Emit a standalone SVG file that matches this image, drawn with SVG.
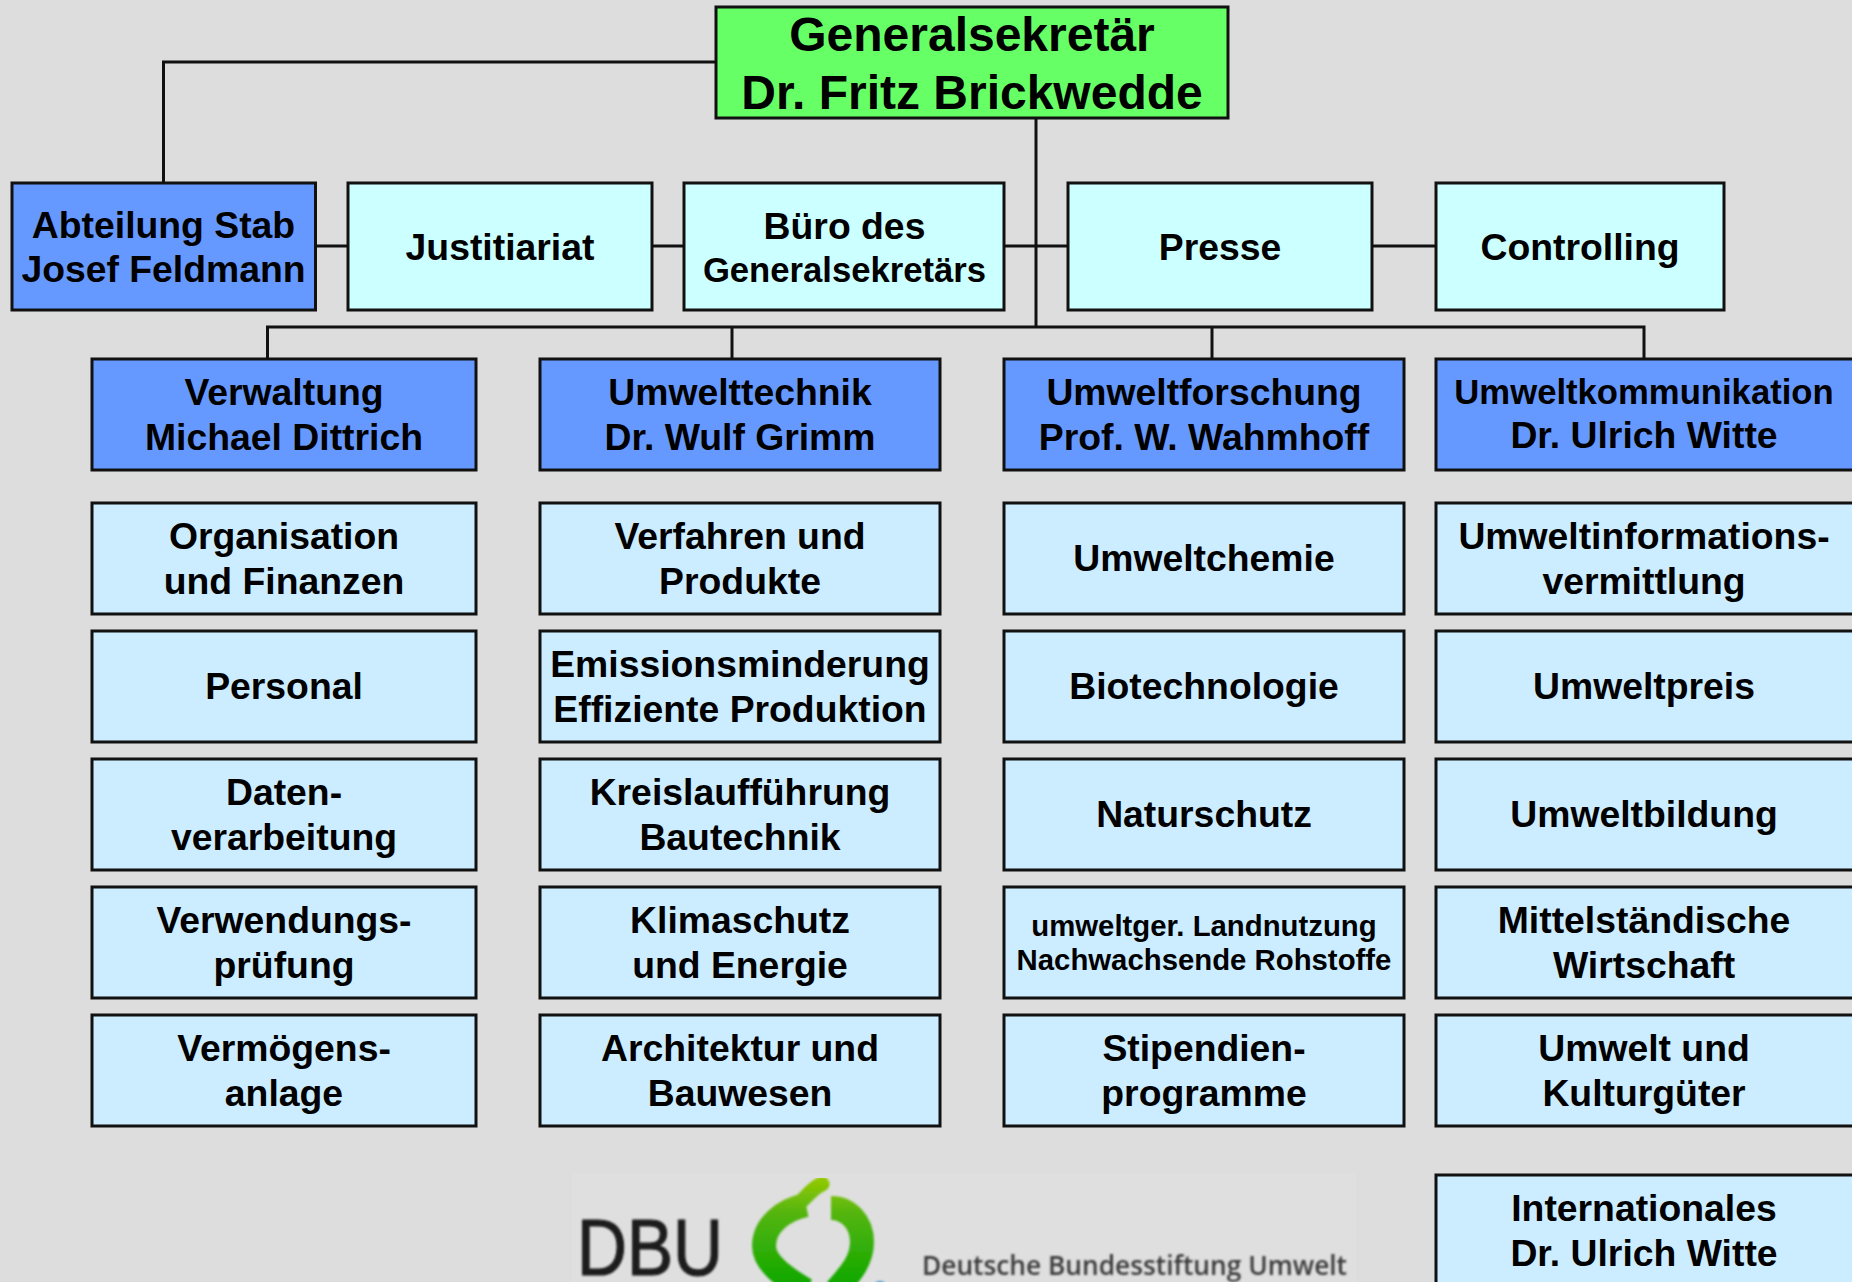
<svg xmlns="http://www.w3.org/2000/svg" width="1852" height="1282" viewBox="0 0 1852 1282">
<style>
.b{stroke:#111;stroke-width:3}
.g{fill:#66FF66}.h{fill:#6699FF}.c{fill:#CCFFFF}.l{fill:#CCECFF}
text{font-family:"Liberation Sans",Arial,sans-serif;font-weight:700;fill:#000;text-anchor:middle}
.t{font-size:37.33px}.s{font-size:34.67px}.x{font-size:29.33px}.m{font-size:48px}
.con{fill:none;stroke:#111;stroke-width:3}
</style>
<defs>
<linearGradient id="lg" x1="0" y1="1175" x2="0" y2="1282" gradientUnits="userSpaceOnUse"><stop offset="0" stop-color="#99CC00"/><stop offset="0.35" stop-color="#55B510"/><stop offset="1" stop-color="#11A800"/></linearGradient>
<filter id="soft" x="-5%" y="-5%" width="110%" height="110%"><feGaussianBlur stdDeviation="0.8"/></filter>
</defs>
<rect width="1852" height="1282" fill="#DDDDDD"/>
<g id="connectors" class="con">
<path d="M716 62H163.500V182"/>
<path d="M1036 118V327"/>
<path d="M316 246H1436"/>
<path d="M267.500 358V327H1644V358"/>
<path d="M732 327V358"/>
<path d="M1212 327V358"/>
</g>
<g id="n-general"><rect class="b g" x="716" y="7" width="512" height="111"/><text class="m" x="972" y="51">Generalsekretär</text><text class="m" x="972" y="109">Dr. Fritz Brickwedde</text></g>
<g id="n-stab"><rect class="b h" x="12" y="183" width="303.500" height="127"/><text class="t" x="163.500" y="237.500">Abteilung Stab</text><text class="t" x="163.500" y="282">Josef Feldmann</text></g>
<g id="n-justitiariat"><rect class="b c" x="348" y="183" width="304" height="127"/><text class="t" x="500" y="260">Justitiariat</text></g>
<g id="n-buero"><rect class="b c" x="684" y="183" width="320" height="127"/><text class="t" x="844.500" y="239">Büro des</text><text class="s" x="844.500" y="282">Generalsekretärs</text></g>
<g id="n-presse"><rect class="b c" x="1068" y="183" width="304" height="127"/><text class="t" x="1220" y="260">Presse</text></g>
<g id="n-controlling"><rect class="b c" x="1436" y="183" width="288" height="127"/><text class="t" x="1580" y="260">Controlling</text></g>

<g id="n-verwaltung"><rect class="b h" x="92" y="359" width="384" height="111"/><text class="t" x="284" y="405">Verwaltung</text><text class="t" x="284" y="450">Michael Dittrich</text></g>
<g id="n-technik"><rect class="b h" x="540" y="359" width="400" height="111"/><text class="t" x="740" y="405">Umwelttechnik</text><text class="t" x="740" y="450">Dr. Wulf Grimm</text></g>
<g id="n-forschung"><rect class="b h" x="1004" y="359" width="400" height="111"/><text class="t" x="1204" y="405">Umweltforschung</text><text class="t" x="1204" y="450">Prof. W. Wahmhoff</text></g>
<g id="n-kommunikation"><rect class="b h" x="1436" y="359" width="420" height="111"/><text class="s" x="1644" y="404">Umweltkommunikation</text><text class="t" x="1644" y="448">Dr. Ulrich Witte</text></g>

<g id="n-organisation"><rect class="b l" x="92" y="503" width="384" height="111"/><text class="t" x="284" y="549">Organisation</text><text class="t" x="284" y="594">und Finanzen</text></g>
<g id="n-personal"><rect class="b l" x="92" y="631" width="384" height="111"/><text class="t" x="284" y="699">Personal</text></g>
<g id="n-daten"><rect class="b l" x="92" y="759" width="384" height="111"/><text class="t" x="284" y="805">Daten-</text><text class="t" x="284" y="850">verarbeitung</text></g>
<g id="n-verwendung"><rect class="b l" x="92" y="887" width="384" height="111"/><text class="t" x="284" y="933">Verwendungs-</text><text class="t" x="284" y="978">prüfung</text></g>
<g id="n-vermoegen"><rect class="b l" x="92" y="1015" width="384" height="111"/><text class="t" x="284" y="1061">Vermögens-</text><text class="t" x="284" y="1106">anlage</text></g>

<g id="n-verfahren"><rect class="b l" x="540" y="503" width="400" height="111"/><text class="t" x="740" y="549">Verfahren und</text><text class="t" x="740" y="594">Produkte</text></g>
<g id="n-emission"><rect class="b l" x="540" y="631" width="400" height="111"/><text class="t" x="740" y="677">Emissionsminderung</text><text class="t" x="740" y="722">Effiziente Produktion</text></g>
<g id="n-kreislauf"><rect class="b l" x="540" y="759" width="400" height="111"/><text class="t" x="740" y="805">Kreislaufführung</text><text class="t" x="740" y="850">Bautechnik</text></g>
<g id="n-klima"><rect class="b l" x="540" y="887" width="400" height="111"/><text class="t" x="740" y="933">Klimaschutz</text><text class="t" x="740" y="978">und Energie</text></g>
<g id="n-architektur"><rect class="b l" x="540" y="1015" width="400" height="111"/><text class="t" x="740" y="1061">Architektur und</text><text class="t" x="740" y="1106">Bauwesen</text></g>

<g id="n-chemie"><rect class="b l" x="1004" y="503" width="400" height="111"/><text class="t" x="1204" y="571">Umweltchemie</text></g>
<g id="n-bio"><rect class="b l" x="1004" y="631" width="400" height="111"/><text class="t" x="1204" y="699">Biotechnologie</text></g>
<g id="n-natur"><rect class="b l" x="1004" y="759" width="400" height="111"/><text class="t" x="1204" y="827">Naturschutz</text></g>
<g id="n-land"><rect class="b l" x="1004" y="887" width="400" height="111"/><text class="x" x="1204" y="935.500">umweltger. Landnutzung</text><text class="x" x="1204" y="970">Nachwachsende Rohstoffe</text></g>
<g id="n-stipendien"><rect class="b l" x="1004" y="1015" width="400" height="111"/><text class="t" x="1204" y="1061">Stipendien-</text><text class="t" x="1204" y="1106">programme</text></g>

<g id="n-info"><rect class="b l" x="1436" y="503" width="420" height="111"/><text class="t" x="1644" y="549">Umweltinformations-</text><text class="t" x="1644" y="594">vermittlung</text></g>
<g id="n-preis"><rect class="b l" x="1436" y="631" width="420" height="111"/><text class="t" x="1644" y="699">Umweltpreis</text></g>
<g id="n-bildung"><rect class="b l" x="1436" y="759" width="420" height="111"/><text class="t" x="1644" y="827">Umweltbildung</text></g>
<g id="n-mittel"><rect class="b l" x="1436" y="887" width="420" height="111"/><text class="t" x="1644" y="933">Mittelständische</text><text class="t" x="1644" y="978">Wirtschaft</text></g>
<g id="n-kultur"><rect class="b l" x="1436" y="1015" width="420" height="111"/><text class="t" x="1644" y="1061">Umwelt und</text><text class="t" x="1644" y="1106">Kulturgüter</text></g>
<g id="n-international"><rect class="b l" x="1436" y="1175" width="420" height="120"/><text class="t" x="1644" y="1221">Internationales</text><text class="t" x="1644" y="1266">Dr. Ulrich Witte</text></g>

<g id="logo">
<rect x="572" y="1173" width="784" height="109" fill="#DFDFDF"/>
<g filter="url(#soft)">
<path d="M822 1184C812 1188 806 1198 798 1204" fill="none" stroke="url(#lg)" stroke-width="15" stroke-linecap="round"/>
<path d="M806 1205C782 1210 764 1226 764 1246C764 1262 782 1276 806 1290" fill="none" stroke="url(#lg)" stroke-width="24"/>
<path d="M831 1208C848 1208 862 1222 862 1242C862 1260 852 1272 836 1290" fill="none" stroke="url(#lg)" stroke-width="24"/>
<circle cx="880" cy="1288" r="7" fill="#3399CC"/>
<text x="650" y="1275" font-size="80" textLength="146" lengthAdjust="spacingAndGlyphs" stroke="#1A1A1A" stroke-width="1.2" style="font-weight:400;fill:#1A1A1A">DBU</text>
<text x="1134.500" y="1275" font-size="27" textLength="425" lengthAdjust="spacingAndGlyphs" style="font-family:'Open Sans','Liberation Sans',sans-serif;font-weight:600;fill:#3A3A3A">Deutsche Bundesstiftung Umwelt</text>
</g>
</g>
</svg>
